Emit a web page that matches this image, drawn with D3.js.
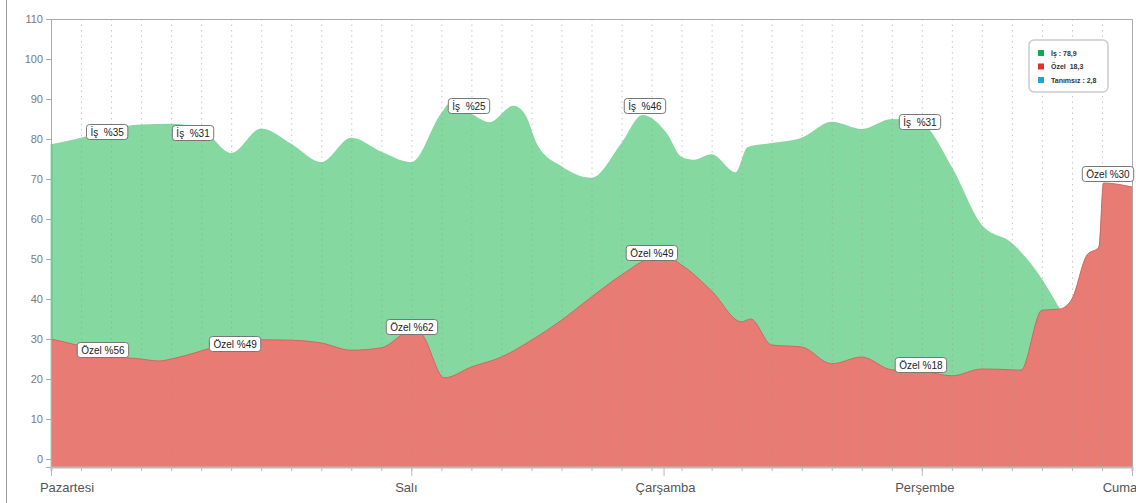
<!DOCTYPE html>
<html lang="tr">
<head>
    <meta charset="UTF-8">
    <title>Haftalık dağılım</title>
    <script src="https://d3js.org/d3.v7.min.js"></script>
    <style>
        body {
            margin: 0;
            background: #fff;
            font-family: Arial, "Liberation Sans", sans-serif;
        }
        .grid line {
            stroke: #999;
            stroke-opacity: 0.55;
            stroke-dasharray: 1.5, 4;
        }
        .axis text {
            fill: #7a7a7a;
            font-size: 11px;
        }
        .axis text.day-label {
            fill: #555;
            font-size: 13px;
        }
        .tag rect {
            fill: #fff;
            stroke: #777;
            stroke-width: 1;
        }
        .tag text {
            font-size: 10px;
            fill: #222;
            text-anchor: middle;
            white-space: pre;
        }
        .legend text {
            font-size: 7px;
            font-weight: bold;
            fill: #333;
        }
    </style>
</head>
<body>
<script>
    const width = 1136, height = 503;

    // x positions are in grid steps (0 = Pazartesi start, 36 = Cuma)
    const isPos  = [0, 1, 2, 3, 4, 5, 6, 7, 8, 9, 10, 11, 12, 13, 13.3, 14, 14.6, 15.4, 15.8, 16.2, 17, 18, 19, 19.7, 20.5, 21, 21.4, 22, 22.8, 23.2, 24, 25, 26, 27, 28, 29, 30, 31, 32, 33, 33.6];
    const isVals = [78.7, 80.3, 82.5, 83.6, 83.8, 82.6, 76.5, 82.6, 78.8, 74.2, 80.3, 76.8, 74.2, 86.5, 89, 86.3, 84.2, 88.3, 86, 78.5, 73.2, 70.3, 79, 86, 81.5, 75.5, 74.8, 76.2, 71.7, 78, 79, 80.3, 84.3, 82.5, 85, 83.8, 73, 58.5, 54, 45, 37.5];

    const ozelPos  = [0, 1, 2, 3, 3.6, 4, 5, 6, 7, 8, 9, 10, 11, 12, 12.3, 13.1, 14, 15, 16, 17, 18, 19, 20, 20.5, 21, 22, 23, 23.3, 24, 25, 26, 27, 28, 29, 30, 31, 32, 32.3, 33, 33.6, 34, 34.5, 34.9, 35.05, 36];
    const ozelVals = [30, 28.2, 25.8, 25, 24.5, 25, 27, 29.3, 29.8, 29.7, 29, 27.2, 27.8, 32, 31.5, 20.3, 23, 25.5, 29.7, 34.7, 40.5, 46, 50.2, 50.5, 48.5, 42, 34.3, 35, 28.5, 28, 23.8, 25.5, 22.3, 22, 20.8, 22.5, 22.3, 22.2, 37.2, 37.5, 40, 51, 53, 69, 68];

    const dayNames = ["Pazartesi", "Salı", "Çarşamba", "Perşembe", "Cuma"];
    const dayPos   = [0, 12, 20.4, 29, 36];

    const yTicks = [0, 10, 20, 30, 40, 50, 60, 70, 80, 90, 100, 110];

    const tagTexts = ["İş  %35", "İş  %31", "İş  %25", "İş  %46", "İş  %31",
                      "Özel %56", "Özel %49", "Özel %62", "Özel %49", "Özel %18", "Özel %30"];
    const tagPos   = [1.87, 4.73, 13.92, 19.78, 28.94, 1.73, 6.13, 12.02, 20.01, 28.97, 35.2];
    const tagVals  = [81.75, 81.5, 88.25, 88.25, 84.25, 27.25, 28.75, 33, 51.5, 23.5, 71.25];

    const legendNames  = ["İş : 78,9", "Özel  18,3", "Tanımsız : 2,8"];
    const legendColors = ["#11a94f", "#e2302a", "#1ea6dc"];

    const svg = d3.select("body").append("svg")
        .attr("width", width)
        .attr("height", height);

    const x = d3.scaleLinear().domain([0, 36]).range([51, 1132]);
    const y = d3.scaleLinear().domain([-2, 110]).range([467, 19]);

    // page frame line on the left
    svg.append("line")
        .attr("x1", 6.5).attr("x2", 6.5)
        .attr("y1", 0).attr("y2", height)
        .attr("stroke", "#999");

    const isData = isPos.map((p, i) => ({ p, v: isVals[i] }));
    const ozelData = ozelPos.map((p, i) => ({ p, v: ozelVals[i] }));

    const area = d3.area()
        .curve(d3.curveMonotoneX)
        .x(d => x(d.p))
        .y0(y.range()[0])
        .y1(d => y(d.v));

    const line = d3.line()
        .curve(d3.curveMonotoneX)
        .x(d => x(d.p))
        .y(d => y(d.v));

    // areas
    svg.append("path")
        .datum(isData)
        .attr("d", area)
        .attr("fill", "#86d8a1");

    svg.append("line")
        .attr("x1", x(0) + 0.5).attr("x2", x(0) + 0.5)
        .attr("y1", y(isVals[0])).attr("y2", y.range()[0])
        .attr("stroke", "#3fa968")
        .attr("stroke-width", 1.5);

    svg.append("path")
        .datum(ozelData)
        .attr("d", area)
        .attr("fill", "#e87b73");

    svg.append("path")
        .datum(ozelData)
        .attr("d", line)
        .attr("fill", "none")
        .attr("stroke", "#cf685f")
        .attr("stroke-width", 1);

    // dotted vertical grid
    svg.append("g")
        .attr("class", "grid")
        .selectAll("line")
        .data(d3.range(1, 36))
        .join("line")
        .attr("x1", d => x(d) + 0.5)
        .attr("x2", d => x(d) + 0.5)
        .attr("y1", y.range()[1])
        .attr("y2", y.range()[0]);

    // plot border (top and right)
    svg.append("path")
        .attr("d", `M${x.range()[0]},${y.range()[1] + 0.5}H${x.range()[1] + 0.5}V${y.range()[0]}`)
        .attr("fill", "none")
        .attr("stroke", "#aaa");

    // y axis
    const yAxis = svg.append("g")
        .attr("class", "axis")
        .attr("transform", `translate(${x.range()[0]},0)`)
        .call(d3.axisLeft(y).tickValues(yTicks).tickSize(5).tickPadding(3));
    yAxis.select(".domain").attr("stroke", "#aaa");
    yAxis.selectAll(".tick line").attr("stroke", "#aaa");

    // x axis: minor ticks on every grid step, day ticks longer
    const xAxis = svg.append("g")
        .attr("class", "axis")
        .attr("transform", `translate(0,${y.range()[0]})`)
        .call(d3.axisBottom(x).tickValues(d3.range(0, 37)).tickSize(4).tickFormat(""));
    xAxis.select(".domain").attr("stroke", "#bbb").attr("stroke-width", 2);
    xAxis.selectAll(".tick line").attr("stroke", "#bbb");

    xAxis.selectAll(".day-tick")
        .data(dayPos)
        .join("line")
        .attr("class", "day-tick")
        .attr("x1", d => x(d) + 0.5)
        .attr("x2", d => x(d) + 0.5)
        .attr("y1", 0)
        .attr("y2", 9)
        .attr("stroke", "#bbb");

    const dayShift = [16, -5, 2, 3, -12];
    xAxis.selectAll(".day-label")
        .data(dayNames)
        .join("text")
        .attr("class", "day-label")
        .attr("text-anchor", "middle")
        .attr("x", (d, i) => x(dayPos[i]) + dayShift[i])
        .attr("y", 25)
        .text(d => d);

    // value tags
    const tags = svg.selectAll(".tag")
        .data(tagTexts)
        .join("g")
        .attr("class", "tag")
        .attr("transform", (d, i) => `translate(${x(tagPos[i])},${y(tagVals[i])})`);

    tags.append("text")
        .attr("y", 3.5)
        .text(d => d);

    tags.each(function () {
        const g = d3.select(this);
        const w = g.select("text").node().getComputedTextLength() + 8;
        g.insert("rect", "text")
            .attr("x", -w / 2)
            .attr("y", -7.5)
            .attr("width", w)
            .attr("height", 15)
            .attr("rx", 3);
    });

    // legend
    const legend = svg.append("g")
        .attr("class", "legend")
        .attr("transform", "translate(1029,40)");

    legend.append("rect")
        .attr("width", 79)
        .attr("height", 52)
        .attr("rx", 5)
        .attr("fill", "#fff")
        .attr("stroke", "#ccc")
        .attr("stroke-width", 1.5);

    const items = legend.selectAll(".item")
        .data(legendNames)
        .join("g")
        .attr("class", "item")
        .attr("transform", (d, i) => `translate(9,${10 + i * 13.5})`);

    items.append("rect")
        .attr("width", 6)
        .attr("height", 6)
        .attr("fill", (d, i) => legendColors[i]);

    items.append("text")
        .attr("x", 13)
        .attr("y", 5.5)
        .style("white-space", "pre")
        .text(d => d);
</script>
</body>
</html>
